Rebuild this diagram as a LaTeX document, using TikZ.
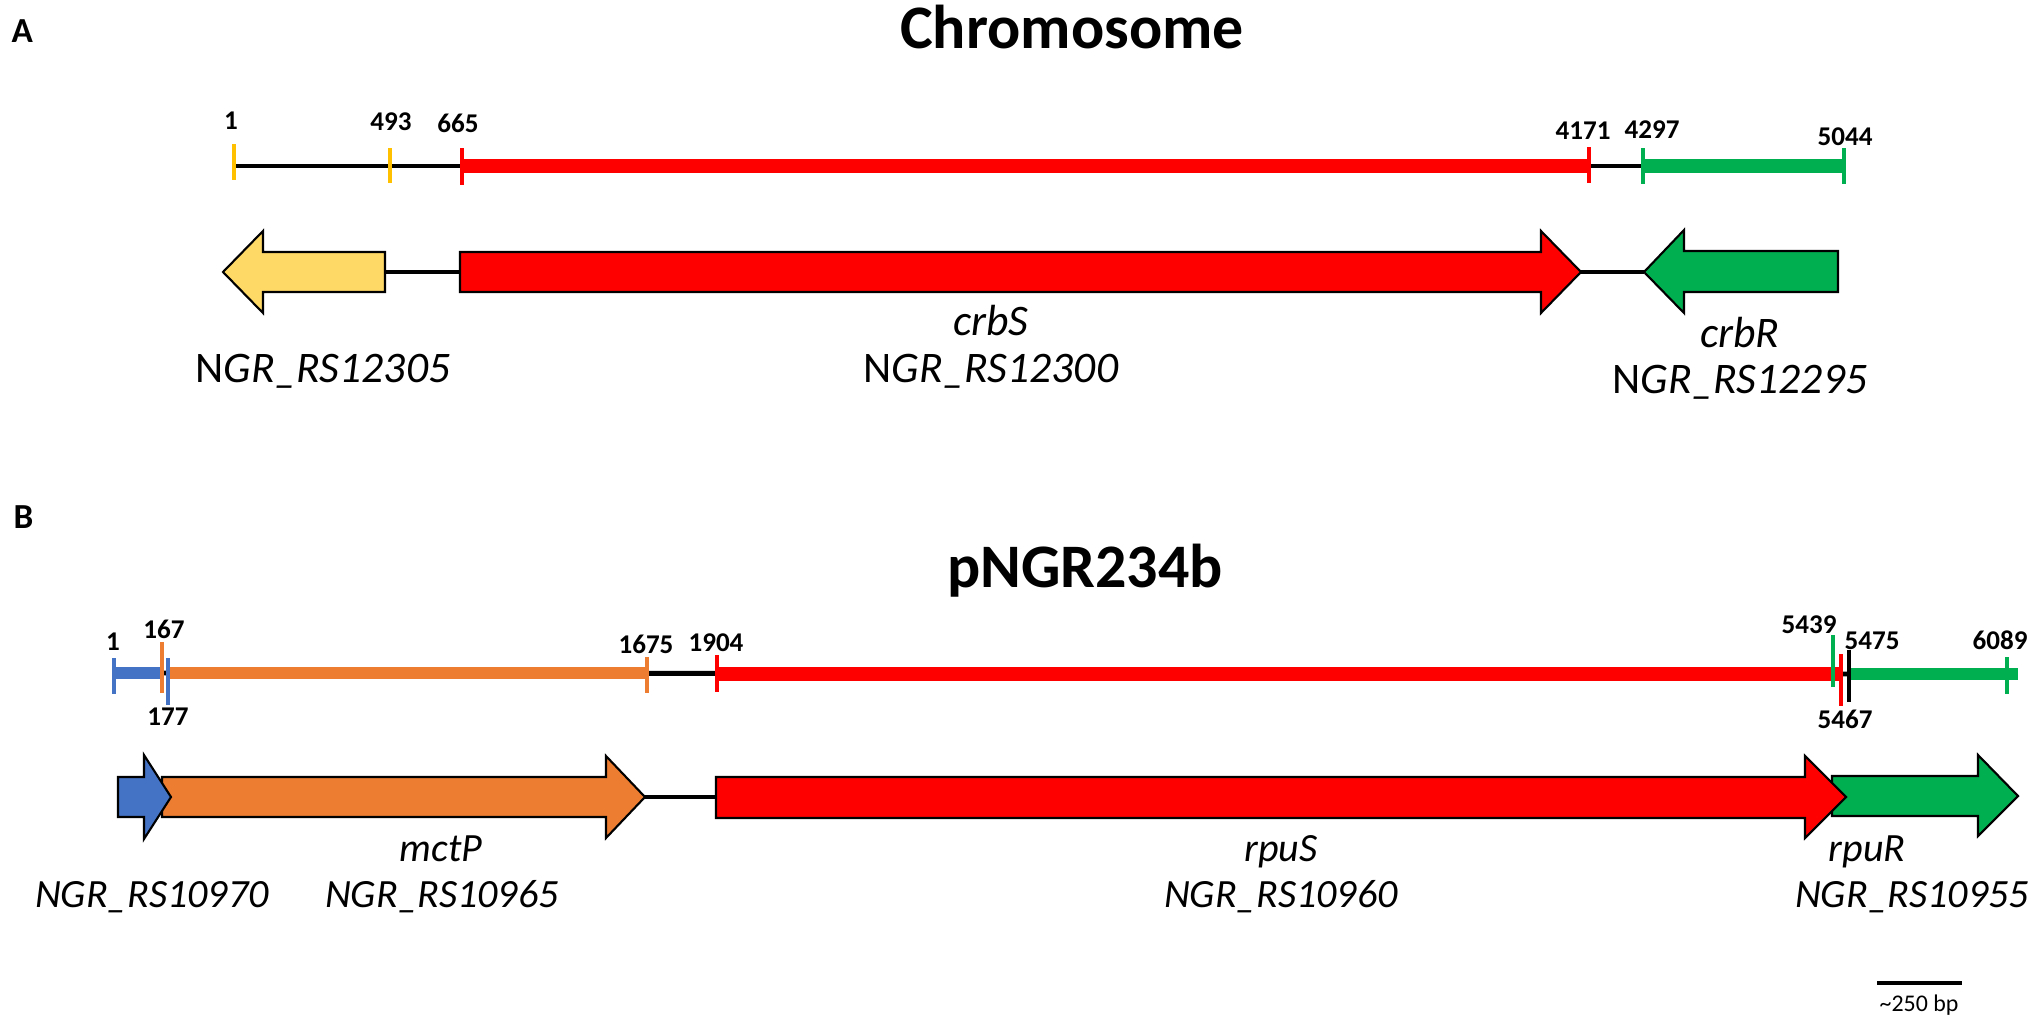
\documentclass[tikz,border=0pt]{standalone}
\usepackage{fontspec}
\setmainfont{Carlito}
\usetikzlibrary{positioning}

\definecolor{gold}{HTML}{FFC000}
\definecolor{lightgold}{HTML}{FFD966}
\definecolor{gred}{HTML}{FF0000}
\definecolor{ggreen}{HTML}{00B050}
\definecolor{gblue}{HTML}{4472C4}
\definecolor{gorange}{HTML}{ED7D31}

\begin{document}
\begin{tikzpicture}[x=0.01cm,y=-0.01cm,
  tickmark/.style={line width=1.3pt},
  bar/.style={line width=4.2pt},
  thinbar/.style={line width=3.5pt},
  link/.style={line width=1.4pt,black},
  gene/.style={draw=black,line width=0.6pt,line join=miter},
  num/.style={anchor=base,inner sep=0pt,font=\bfseries\fontsize{7.7}{9}\selectfont},
  lab/.style={anchor=base,inner sep=0pt,font=\fontsize{11.4}{13}\selectfont},
  biglab/.style={lab,font=\fontsize{12.4}{14}\selectfont},
  heading/.style={anchor=base,inner sep=0pt,font=\bfseries\fontsize{17.6}{21}\selectfont},
  panel/.style={anchor=base west,inner sep=0pt,font=\bfseries\fontsize{10}{12}\selectfont}]

\useasboundingbox (0,0) rectangle (2033,1021);

% panel A
\node[panel](pa) at (11,42) {A};
\node[heading](chr) at (1072,48) {Chromosome};

\coordinate(a0) at (234,166);
\coordinate(a1) at (390,166);
\coordinate(a2) at (462,166);
\coordinate(a3) at (1589,166);
\coordinate(a4) at (1643,166);
\coordinate(a5) at (1844,166);
\draw[link](a0)--(a2);
\draw[link](a3)--(a4);
\draw[bar,gred](a2)--(a3);
\draw[bar,ggreen](a4)--(a5);
\foreach \x/\t/\b/\c in {234/144/180/gold,390/148/183/gold,462/148/185/gred,1589/147/183/gred,1643/148/184/ggreen,1844/148/184/ggreen}{
	\draw[tickmark,\c](\x,\t)--(\x,\b);
}
\foreach \x/\y/\n in {231/129/1,391/130/493,458/132/665,1583/139/4171,1652/138/4297,1845/145/5044}{
	\node[num](a\n) at (\x,\y) {\n};
}

\coordinate(ya) at (385,272);
\coordinate(ra) at (460,272);
\coordinate(rb) at (1581,272);
\coordinate(ga) at (1644,272);
\draw[link](ya)--(ra);
\draw[link](rb)--(ga);
\draw[gene,fill=lightgold](385,252)--(263,252)--(263,231)--(223,272)--(263,313)--(263,292)--(385,292)--cycle;
\draw[gene,fill=gred](460,252)--(1541,252)--(1541,231)--(1581,272)--(1541,313)--(1541,292)--(460,292)--cycle;
\draw[gene,fill=ggreen](1838,251)--(1684,251)--(1684,230)--(1644,272)--(1684,313)--(1684,292)--(1838,292)--cycle;

\node[biglab](l12305) at (323,382) {N\textit{GR\_RS12305}};
\node[biglab](crbS) at (991,335) {\textit{crbS}};
\node[biglab](l12300) at (991,382) {N\textit{GR\_RS12300}};
\node[biglab](crbR) at (1740,347) {\textit{crbR}};
\node[biglab](l12295) at (1740,393) {N\textit{GR\_RS12295}};

% panel B
\node[panel](pb) at (13,528) {B};
\node[heading](pls) at (1085,587) {pNGR234b};

\coordinate(b0) at (114,673);
\coordinate(b1) at (162,673);
\coordinate(b2) at (168,673);
\coordinate(b3) at (647,673);
\coordinate(b4) at (717,674);
\coordinate(b5) at (1841,674);
\coordinate(b6) at (1849,674);
\coordinate(b7) at (2018,674);
\draw[link](b0)--(b6);
\draw[thinbar,gblue](b0)--(b1);
\draw[thinbar,gorange](b2)--(b3);
\draw[bar,gred](b4)--(b5);
\draw[thinbar,ggreen](b6)--(b7);
\foreach \x/\t/\b/\c in {114/658/694/gblue,162/642/693/gorange,168/658/705/gblue,647/657/693/gorange,717/655/692/gred,1833/635/687/ggreen,1841/654/706/gred,1849/650/702/black,2007/657/694/ggreen}{
	\draw[tickmark,\c](\x,\t)--(\x,\b);
}
\foreach \x/\y/\n in {113/650/1,164/638/167,168/725/177,646/653/1675,716/651/1904,1809/633/5439,1872/649/5475,2000/649/6089,1845/728/5467}{
	\node[num](b\n) at (\x,\y) {\n};
}

\coordinate(oa) at (645,797);
\coordinate(rc) at (716,797);
\draw[link](oa)--(rc);
\draw[gene,fill=gorange](162,777)--(606,777)--(606,756)--(645,797)--(606,838)--(606,817)--(162,817)--cycle;
\draw[gene,fill=gblue](118,777)--(144,777)--(144,755)--(171,797)--(144,839)--(144,817)--(118,817)--cycle;
\draw[gene,fill=ggreen](1832,776)--(1978,776)--(1978,755)--(2018,796)--(1978,836)--(1978,816)--(1832,816)--cycle;
\draw[gene,fill=gred](716,777)--(1805,777)--(1805,756)--(1846,797)--(1805,838)--(1805,818)--(716,818)--cycle;

\node[lab](l10970) at (152,907) {\textit{NGR\_RS10970}};
\node[lab](mctP) at (441,861) {\textit{mctP}};
\node[lab](l10965) at (442,907) {\textit{NGR\_RS10965}};
\node[lab](rpuS) at (1281,861) {\textit{rpuS}};
\node[lab](l10960) at (1281,907) {\textit{NGR\_RS10960}};
\node[lab](rpuR) at (1867,861) {\textit{rpuR}};
\node[lab](l10955) at (1912,907) {\textit{NGR\_RS10955}};

% scale bar
\coordinate(s0) at (1877,983);
\coordinate(s1) at (1962,983);
\draw[link](s0)--(s1);
\node[anchor=base,inner sep=0pt,font=\fontsize{6.8}{8}\selectfont](sl) at (1919,1011) {\textasciitilde250 bp};
\end{tikzpicture}
\end{document}
